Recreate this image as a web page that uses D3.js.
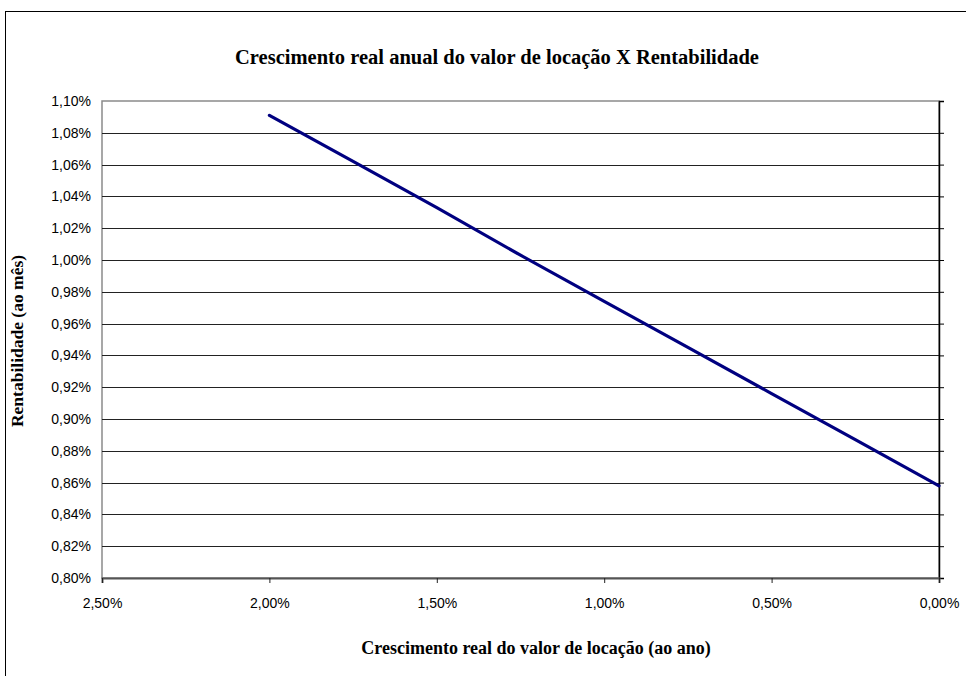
<!DOCTYPE html>
<html>
<head>
<meta charset="utf-8">
<script src="https://cdn.jsdelivr.net/npm/d3@7/dist/d3.min.js"></script>
<style>
  html, body { margin: 0; padding: 0; background: #fff; }
  svg { display: block; }
</style>
</head>
<body>
<svg id="chart" width="966" height="676"></svg>
<script>
// Annual real growth of the rental value (% per year)
const growth = [2.00, 1.75, 1.50, 1.25, 1.00, 0.75, 0.50, 0.25, 0.00];
// Monthly return (% per month)
const returns = [1.091, 1.062, 1.033, 1.003, 0.974, 0.945, 0.916, 0.887, 0.858];
// Axis ticks
const xTicks = [2.50, 2.00, 1.50, 1.00, 0.50, 0.00];
const yTicks = [0.80, 0.82, 0.84, 0.86, 0.88, 0.90, 0.92, 0.94, 0.96, 0.98, 1.00, 1.02, 1.04, 1.06, 1.08, 1.10];

const titleText = "Crescimento real anual do valor de locação X Rentabilidade";
const xTitle = "Crescimento real do valor de locação (ao ano)";
const yTitle = "Rentabilidade (ao mês)";

const svg = d3.select("#chart");
const plot = { left: 102, right: 939, top: 101, bottom: 578 };

const fmt = v => v.toFixed(2).replace(".", ",") + "%";
const serif = "'Liberation Serif', 'Times New Roman', serif";
const sans = "'Liberation Sans', Arial, sans-serif";

// x axis runs from high to low growth
const x = d3.scaleLinear().domain([2.5, 0]).range([plot.left, plot.right]);
const y = d3.scaleLinear().domain([0.80, 1.10]).range([plot.bottom, plot.top]);

// Outer chart frame
svg.append("rect")
  .attr("x", 5.5).attr("y", 11.5)
  .attr("width", 1000).attr("height", 700)
  .attr("fill", "none").attr("stroke", "#000").attr("stroke-width", 1);

// Title
svg.append("text")
  .attr("x", 497).attr("y", 64)
  .attr("text-anchor", "middle")
  .attr("font-family", serif)
  .attr("font-weight", "bold").attr("font-size", 20.5)
  .text(titleText);

// Plot area border (gray)
svg.append("rect")
  .attr("x", plot.left).attr("y", plot.top)
  .attr("width", plot.right - plot.left).attr("height", plot.bottom - plot.top)
  .attr("fill", "none").attr("stroke", "#8a8a8a").attr("stroke-width", 1.5);

// Horizontal gridlines
svg.append("g")
  .selectAll("line")
  .data(yTicks.filter(v => v > 0.80 && v < 1.10))
  .join("line")
  .attr("x1", plot.left).attr("x2", plot.right)
  .attr("y1", d => Math.round(y(d)) + 0.5).attr("y2", d => Math.round(y(d)) + 0.5)
  .attr("stroke", "#222").attr("stroke-width", 1);

// Value axis on the right side with outward ticks; labels on the left
const yAxisR = d3.axisRight(y).tickValues(yTicks).tickSize(5).tickFormat("");
const gyr = svg.append("g")
  .attr("transform", `translate(${plot.right},0)`)
  .call(yAxisR);
gyr.select(".domain").attr("stroke", "#000").attr("stroke-width", 1.5);
gyr.selectAll(".tick line").attr("stroke", "#000");

const yAxisL = d3.axisLeft(y).tickValues(yTicks).tickSize(0).tickPadding(11).tickFormat(fmt);
const gyl = svg.append("g")
  .attr("transform", `translate(${plot.left},0)`)
  .call(yAxisL);
gyl.select(".domain").remove();
gyl.selectAll("text")
  .attr("font-family", sans)
  .attr("font-size", 14).attr("fill", "#000");

// Category axis at the bottom with outward ticks
const xAxis = d3.axisBottom(x).tickValues(xTicks).tickSize(5).tickPadding(15).tickFormat(fmt);
const gx = svg.append("g")
  .attr("transform", `translate(0,${plot.bottom})`)
  .call(xAxis);
gx.select(".domain").attr("stroke", "#555").attr("stroke-width", 2);
gx.selectAll(".tick line").attr("stroke", "#222");
gx.selectAll("text")
  .attr("font-family", sans)
  .attr("font-size", 14).attr("fill", "#000");

// Data line
const line = d3.line()
  .x((d, i) => x(growth[i]))
  .y(d => y(d));
svg.append("path")
  .datum(returns)
  .attr("d", line)
  .attr("fill", "none")
  .attr("stroke", "#000080")
  .attr("stroke-width", 3.2)
  .attr("stroke-linecap", "round")
  .attr("stroke-linejoin", "round");

// Axis titles
svg.append("text")
  .attr("x", 536).attr("y", 654)
  .attr("text-anchor", "middle")
  .attr("font-family", serif)
  .attr("font-weight", "bold").attr("font-size", 18)
  .text(xTitle);

svg.append("text")
  .attr("transform", "translate(23,341) rotate(-90)")
  .attr("text-anchor", "middle")
  .attr("font-family", serif)
  .attr("font-weight", "bold").attr("font-size", 17.5)
  .text(yTitle);
</script>
</body>
</html>
